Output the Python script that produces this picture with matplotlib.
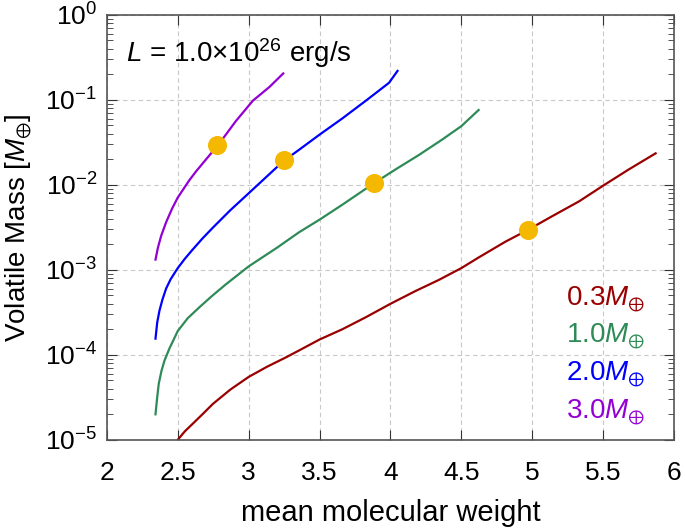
import numpy as np
import matplotlib.pyplot as plt
from matplotlib.ticker import LogLocator, MultipleLocator, NullFormatter

plt.rcParams['font.family'] = ['Liberation Sans', 'DejaVu Sans']
plt.rcParams['mathtext.fontset'] = 'custom'
plt.rcParams['mathtext.rm'] = 'Liberation Sans'
plt.rcParams['mathtext.it'] = 'Liberation Sans:italic'
plt.rcParams['mathtext.fallback'] = 'stixsans'

# curves: mean molecular weight vs log10(volatile mass)
mu_03 = [2.5, 2.55, 2.606, 2.68, 2.746, 2.87, 3.0, 3.13, 3.263, 3.354, 3.5,
         3.66, 3.824, 4.0, 4.176, 4.34, 4.5, 4.622, 4.81, 4.97, 5.14, 5.33,
         5.5, 5.68, 5.87]
logm_03 = [-5.0, -4.90, -4.81, -4.69, -4.58, -4.41, -4.26, -4.14, -4.03, -3.95,
           -3.82, -3.70, -3.56, -3.40, -3.25, -3.12, -2.98, -2.855, -2.67, -2.53,
           -2.37, -2.195, -2.01, -1.82, -1.63]

mu_10 = [2.343, 2.355, 2.366, 2.385, 2.406, 2.44, 2.5, 2.57, 2.653, 2.74, 2.84,
         3.0, 3.2, 3.354, 3.5, 3.66, 3.885, 4.035, 4.2, 4.363, 4.5, 4.622]
logm_10 = [-4.70, -4.50, -4.34, -4.19, -4.07, -3.93, -3.72, -3.57, -3.44, -3.31,
           -3.17, -2.96, -2.74, -2.56, -2.41, -2.235, -1.98, -1.82, -1.65, -1.47,
           -1.31, -1.12]

mu_20 = [2.343, 2.355, 2.371, 2.392, 2.418, 2.45, 2.5, 2.55, 2.606, 2.675,
         2.75, 2.87, 3.0, 3.246, 3.354, 3.5, 3.66, 3.835, 3.99, 4.05]
logm_20 = [-3.81, -3.62, -3.48, -3.35, -3.22, -3.11, -2.98, -2.87, -2.76, -2.63,
           -2.50, -2.30, -2.10, -1.72, -1.59, -1.41, -1.22, -1.0, -0.80, -0.66]

mu_30 = [2.343, 2.36, 2.383, 2.418, 2.46, 2.5, 2.58, 2.63, 2.735, 2.777, 2.91,
         3.03, 3.146, 3.244]
logm_30 = [-2.88, -2.74, -2.60, -2.44, -2.28, -2.15, -1.95, -1.84, -1.63, -1.55,
           -1.25, -1.01, -0.85, -0.69]

mark_mu = [2.777, 3.246, 3.885, 4.97]
mark_m = [0.0295, 0.0195, 0.0105, 0.00295]

labels = ["0.3", "1.0", "2.0", "3.0"]
colors = ["#990000", "#2e8b57", "#0000ff", "#9400d3"]

fig = plt.figure(figsize=(6.85, 5.28), dpi=100)
ax = fig.add_axes([0.156, 0.167, 0.828, 0.805])

for mu, logm, c in zip([mu_03, mu_10, mu_20, mu_30],
                       [logm_03, logm_10, logm_20, logm_30], colors):
    ax.plot(mu, 10 ** np.array(logm), color=c, lw=1.6)

ax.plot(mark_mu, mark_m, "o", color="#f5b800", ms=12.7, zorder=5)

ax.set_yscale("log")
ax.set_xlim(2, 6)
ax.set_ylim(1e-5, 1)
ax.xaxis.set_major_locator(MultipleLocator(0.5))
ax.xaxis.set_major_formatter(plt.FuncFormatter(lambda v, p: f"{v:g}"))
ax.yaxis.set_major_locator(LogLocator(base=10, numticks=10))
ax.yaxis.set_minor_locator(LogLocator(base=10, subs=np.arange(2, 10), numticks=10))
ax.yaxis.set_minor_formatter(NullFormatter())

ax.grid(True, which="major", ls=(0, (4, 3)), color="#c8c8c8", lw=0.8)
ax.tick_params(which="both", direction="in", top=True, right=True, labelsize=19)
ax.tick_params(axis="x", pad=15)
ax.tick_params(axis="y", pad=7)
ax.tick_params(which="major", length=7, color="#333333")
ax.tick_params(which="minor", length=4, color="#333333")
for s in ax.spines.values():
    s.set_color("#555555")
    s.set_linewidth(1.2)

ax.set_xlabel("mean molecular weight", fontsize=21, labelpad=10)
ax.set_ylabel(r"Volatile Mass [$M_{\oplus}$]", fontsize=20, labelpad=8)

ax.text(0.034, 0.889, r"$L$ = 1.0$\times$10$^{26}$ erg/s", transform=ax.transAxes,
        fontsize=20, va="baseline")

ys = [0.318, 0.231, 0.141, 0.052]
for lab, c, yy in zip(labels, colors, ys):
    ax.text(0.949, yy, lab + r"$M_{\oplus}$", transform=ax.transAxes,
            color=c, fontsize=20, ha="right", va="baseline")

fig.savefig("out.png", dpi=100)
